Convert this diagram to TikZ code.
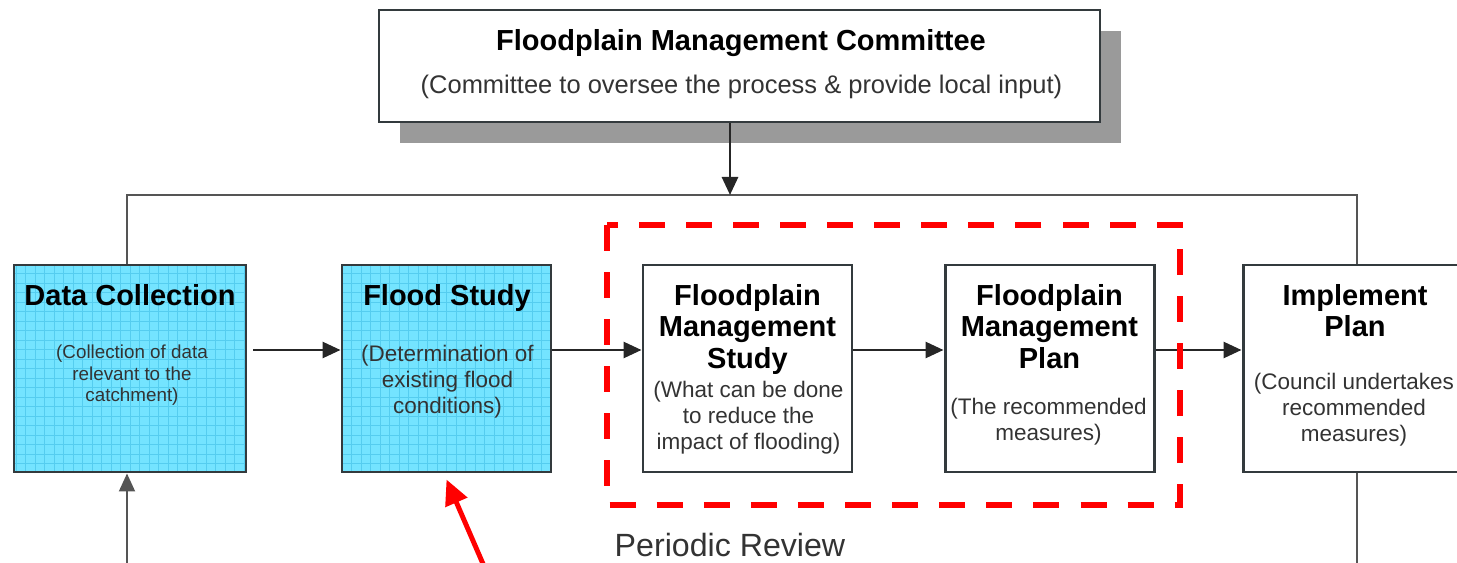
\documentclass[tikz,border=0pt]{standalone}
\usepackage{fontspec}
\setmainfont{Liberation Sans}
\usetikzlibrary{arrows.meta,shadows}

\definecolor{cyanfill}{HTML}{74E4FF}
\definecolor{cyangrid}{HTML}{55CDEF}
\definecolor{boxline}{HTML}{333A3D}
\definecolor{busgrey}{HTML}{555555}
\definecolor{shadegrey}{HTML}{9A9A9A}
\definecolor{subgrey}{HTML}{333333}
\definecolor{markred}{HTML}{FF0000}

\tikzset{
  stage/.style = {draw=boxline, line width=1.7pt, minimum height=4.14cm},
  gridstage/.style = {stage, fill=cyanfill,
    path picture={\draw[cyangrid, line width=0.45pt]
      (path picture bounding box.south west) grid[step=0.19cm]
      (path picture bounding box.north east);}},
  headline/.style = {inner sep=0pt, align=center,
    font=\fontsize{16.5}{18}\selectfont\bfseries},
  subline/.style = {inner sep=0pt, align=center, text=subgrey,
    font=\fontsize{12.8}{14.8}\selectfont},
  flowtip/.style = {-{Triangle[length=0.36cm, width=0.32cm]}},
  flowarrow/.style = {draw=black!85, line width=1.6pt, flowtip},
  busline/.style = {draw=busgrey, line width=1.1pt}
}

\begin{document}
\begin{tikzpicture}
  \useasboundingbox (0,0) rectangle (29.14,-11.26);

  % committee on top
  \node[draw=boxline, line width=1.2pt, fill=white,
        minimum width=14.42cm, minimum height=2.24cm,
        drop shadow={shadow xshift=0.42cm, shadow yshift=-0.42cm,
                     fill=shadegrey, opacity=1}]
        (fmc) at (14.79,-1.32) {};
  \node[inner sep=0pt, anchor=base, font=\fontsize{16.5}{18}\selectfont\bfseries]
        (fmct) at (14.82,-1.01) {Floodplain Management Committee};
  \node[inner sep=0pt, anchor=base, text=subgrey, font=\fontsize{14.5}{17}\selectfont]
        (fmcs) at (14.83,-1.88) {(Committee to oversee the process \& provide local input)};

  % stages
  \node[gridstage, minimum width=4.64cm] (dc)  at (2.60,-7.37) {};
  \node[gridstage, minimum width=4.18cm] (fs)  at (8.93,-7.37) {};
  \node[stage, minimum width=4.18cm]     (fms) at (14.95,-7.37) {};
  \node[stage, minimum width=4.18cm]     (fmp) at (20.99,-7.37) {};
  \node[stage, minimum width=4.48cm]     (ip)  at (27.10,-7.37) {};

  % stage texts
  \node[headline, anchor=north] (dct)  at (2.60,-5.68)  {Data Collection};
  \node[headline, anchor=north] (fst)  at (8.94,-5.68)  {Flood Study};
  \node[headline, anchor=north] (fmst) at (14.95,-5.68) {Floodplain\\Management\\Study};
  \node[headline, anchor=north] (fmpt) at (20.99,-5.68) {Floodplain\\Management\\Plan};
  \node[headline, anchor=north] (ipt)  at (27.10,-5.68) {Implement\\Plan};

  \node[subline, anchor=north, font=\fontsize{10.7}{12}\selectfont]
        (dcs) at (2.64,-6.90) {(Collection of data\\relevant to the\\catchment)};
  \node[subline, anchor=north] (fss)  at (8.95,-6.89)  {(Determination of\\existing flood\\conditions)};
  \node[subline, anchor=north] (fmss) at (14.97,-7.61) {(What can be done\\to reduce the\\impact of flooding)};
  \node[subline, anchor=north] (fmps) at (20.97,-7.95) {(The recommended\\measures)};
  \node[subline, anchor=north] (ips)  at (27.08,-7.45) {(Council undertakes\\recommended\\measures)};

  % connectors
  \coordinate (drop)  at (14.60,-3.90);
  \coordinate (busl)  at (2.54,-3.90);
  \coordinate (busr)  at (27.14,-3.90);
  \coordinate (flow)  at (0,-7.00);
  \coordinate (loopl) at (2.54,-11.40);
  \coordinate (loopr) at (27.14,-11.40);

  \draw[busline] (dc.north -| busl) -- (busl) -- (busr) -- (ip.north -| busr);
  \draw[flowarrow] (fmc.south -| drop) -- (drop);
  \draw[flowarrow] ([xshift=0.12cm]dc.east |- flow) -- (fs.west |- flow);
  \draw[flowarrow] (fs.east |- flow) -- (fms.west |- flow);
  \draw[flowarrow] (fms.east |- flow) -- (fmp.west |- flow);
  \draw[flowarrow] (fmp.east |- flow) -- (ip.west |- flow);
  \draw[busline, flowtip] (loopl) -- (dc.south -| loopl);
  \draw[busline] (ip.south -| loopr) -- (loopr);

  % review box
  \draw[markred, line width=3.4pt, dash pattern=on 14.8pt off 12pt]
    (12.14,-4.50) rectangle (23.60,-10.10);
  \node[inner sep=0pt, anchor=base, text=subgrey, font=\fontsize{18.3}{21}\selectfont]
        (review) at (14.60,-11.13) {Periodic Review};

  % red pointer
  \coordinate (pointer) at (9.80,-11.60);
  \draw[markred, line width=2.8pt, -{Triangle[length=0.5cm, width=0.46cm]}]
    (pointer) -- ([yshift=-0.12cm]fs.south);
\end{tikzpicture}
\end{document}
